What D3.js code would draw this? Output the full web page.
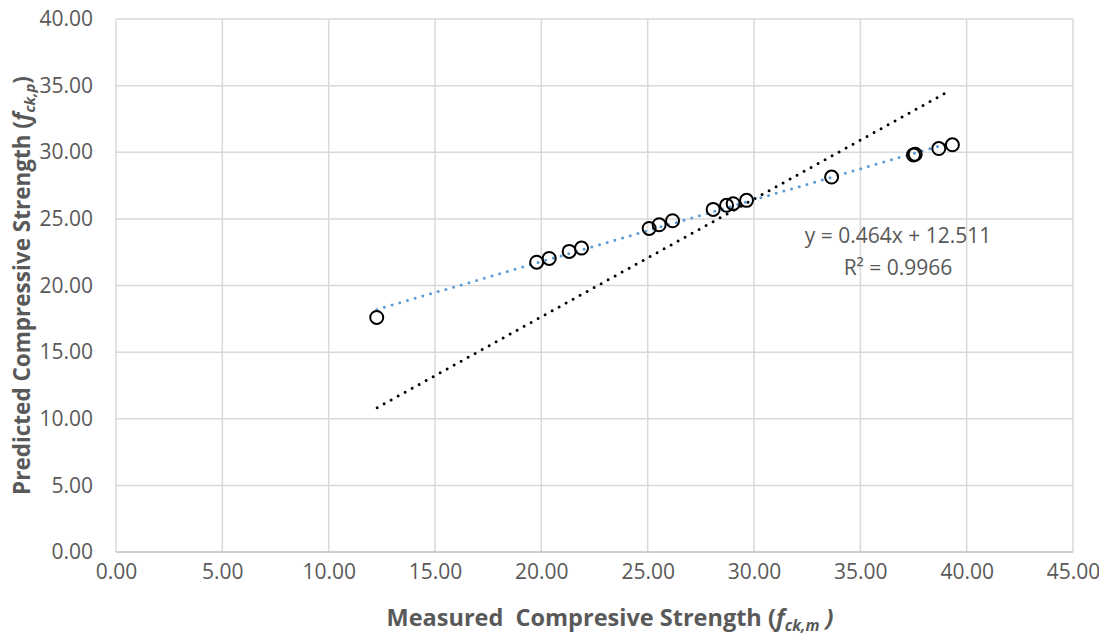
<!DOCTYPE html>
<html>
<head>
<meta charset="utf-8">
<script src="https://cdn.jsdelivr.net/npm/d3@7"></script>
<style>
  html, body { margin: 0; padding: 0; background: #fff; }
  svg { display: block; font-family: "Open Sans", sans-serif; }
</style>
</head>
<body>
<div id="chart"></div>
<script>
// measured vs predicted strength
const measured = [12.26, 19.78, 20.37, 21.31, 21.89, 25.07, 25.54, 26.17, 28.08, 28.71, 29.02, 29.65, 33.65, 37.50, 37.58, 38.69, 39.33];
const predicted = [17.60, 21.75, 22.03, 22.56, 22.81, 24.28, 24.56, 24.86, 25.71, 26.02, 26.14, 26.39, 28.14, 29.80, 29.85, 30.28, 30.56];

// linear trendline shown on the chart
const trendSlope = 0.464;
const trendIntercept = 12.511;
const trendLabel = ["y = 0.464x + 12.511", "R² = 0.9966"];

// black dotted reference line end points
const refX = [12.28, 39.13];
const refY = [10.83, 34.56];

const xTicks = [0, 5, 10, 15, 20, 25, 30, 35, 40, 45];
const yTicks = [0, 5, 10, 15, 20, 25, 30, 35, 40];

const width = 1099;
const height = 636;
const margin = { top: 19, right: 26, bottom: 84, left: 116 };

const x = d3.scaleLinear([0, 45], [margin.left, width - margin.right]);
const y = d3.scaleLinear([0, 40], [height - margin.bottom, margin.top]);

const textColor = "#595959";
const gridColor = "#d9d9d9";

const svg = d3.select("#chart").append("svg")
  .attr("width", width)
  .attr("height", height)
  .attr("viewBox", [0, 0, width, height]);

svg.append("rect")
  .attr("width", width)
  .attr("height", height)
  .attr("fill", "#fff");

// gridlines
svg.append("g")
  .selectAll("line")
  .data(xTicks)
  .join("line")
    .attr("x1", d => x(d)).attr("x2", d => x(d))
    .attr("y1", y(0)).attr("y2", y(40))
    .attr("stroke", gridColor)
    .attr("stroke-width", 1.5);

svg.append("g")
  .selectAll("line")
  .data(yTicks)
  .join("line")
    .attr("x1", x(0)).attr("x2", x(45))
    .attr("y1", d => y(d)).attr("y2", d => y(d))
    .attr("stroke", d => d === 0 ? "#bfbfbf" : gridColor)
    .attr("stroke-width", 1.5);

// axes (labels only)
const xAxis = svg.append("g")
  .attr("transform", `translate(0,${y(0)})`)
  .call(d3.axisBottom(x).tickValues(xTicks).tickFormat(d3.format(".2f")).tickSize(0).tickPadding(12));

const yAxis = svg.append("g")
  .attr("transform", `translate(${x(0)},0)`)
  .call(d3.axisLeft(y).tickValues(yTicks).tickFormat(d3.format(".2f")).tickSize(0).tickPadding(23));

[xAxis, yAxis].forEach(function (g) {
  g.select(".domain").remove();
  g.selectAll("text")
    .attr("fill", textColor)
    .style("font-size", "21px")
    .style("font-family", '"Open Sans", sans-serif');
});

// black dotted reference line
svg.append("line")
  .attr("x1", x(refX[0])).attr("y1", y(refY[0]))
  .attr("x2", x(refX[1])).attr("y2", y(refY[1]))
  .attr("stroke", "#000")
  .attr("stroke-width", 3)
  .attr("stroke-linecap", "round")
  .attr("stroke-dasharray", "0 8");

// blue dotted trendline
const xMin = d3.min(measured);
const xMax = d3.max(measured);
svg.append("line")
  .attr("x1", x(xMin)).attr("y1", y(trendSlope * xMin + trendIntercept))
  .attr("x2", x(xMax)).attr("y2", y(trendSlope * xMax + trendIntercept))
  .attr("stroke", "#5b9bd5")
  .attr("stroke-width", 3)
  .attr("stroke-linecap", "round")
  .attr("stroke-dasharray", "0 8");

// points
svg.append("g")
  .selectAll("circle")
  .data(measured)
  .join("circle")
    .attr("cx", d => x(d))
    .attr("cy", (d, i) => y(predicted[i]))
    .attr("r", 6.5)
    .attr("fill", "none")
    .attr("stroke", "#000")
    .attr("stroke-width", 2);

// equation label
svg.append("g")
  .selectAll("text")
  .data(trendLabel)
  .join("text")
    .attr("x", 898)
    .attr("y", (d, i) => 243 + i * 32)
    .attr("text-anchor", "middle")
    .attr("fill", textColor)
    .style("font-size", "21px")
    .text(d => d);

// axis titles
const xTitle = svg.append("text")
  .attr("x", 610)
  .attr("y", 626)
  .attr("text-anchor", "middle")
  .attr("fill", textColor)
  .style("font-size", "23.5px")
  .style("font-weight", "bold")
  .style("white-space", "pre");
xTitle.append("tspan").text("Measured  Compresive Strength (");
xTitle.append("tspan").style("font-style", "italic").text("f");
xTitle.append("tspan").style("font-style", "italic").style("font-size", "15.5px").attr("dy", 5).text("ck,m");
xTitle.append("tspan").attr("dy", -5).style("font-style", "italic").text(" )");

const yTitle = svg.append("text")
  .attr("transform", `translate(30,${(y(0) + y(40)) / 2}) rotate(-90)`)
  .attr("text-anchor", "middle")
  .attr("fill", textColor)
  .style("font-size", "22.5px")
  .style("font-weight", "bold");
yTitle.append("tspan").text("Predicted Compressive Strength (");
yTitle.append("tspan").style("font-style", "italic").text("f");
yTitle.append("tspan").style("font-style", "italic").style("font-size", "15px").attr("dy", 5).text("ck,p");
yTitle.append("tspan").attr("dy", -5).text(")");
</script>
</body>
</html>
